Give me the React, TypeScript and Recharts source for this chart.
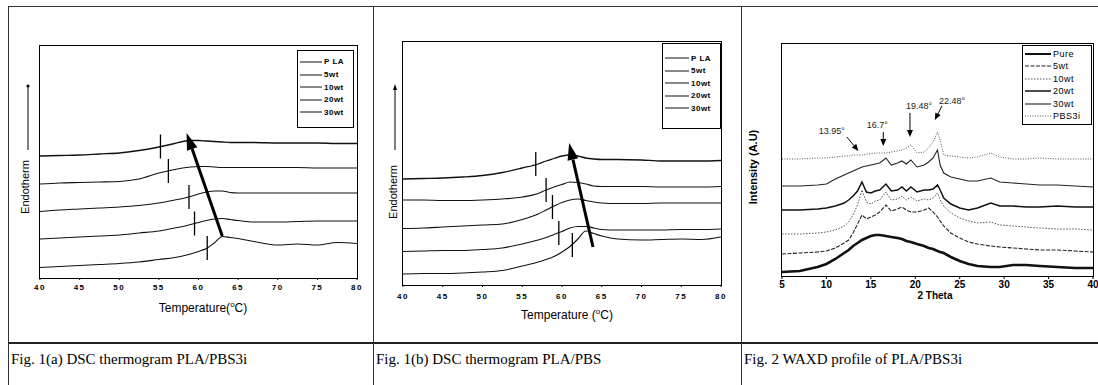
import React from "react";
import { LineChart, Line, XAxis, YAxis, ReferenceLine } from "recharts";

// ---- Fig 1(a)/(b): DSC traces (heights are stacked, arbitrary units) ----
const dscTemps = [40, 42.5, 45, 47.5, 50, 52.5, 55, 57, 58, 59, 60, 61, 62, 63, 64, 65, 67, 70, 72.5, 75, 77.5, 80];
const dscTicks = [40, 45, 50, 55, 60, 65, 70, 75, 80];
const dscNames = ["P LA", "5wt", "10wt", "20wt", "30wt"];

const fig1aPla = [122, 122.5, 123, 124, 125, 127.5, 131, 134.5, 136.5, 137.5, 137.5, 137, 136.5, 136, 135.5, 135.5, 135.5, 135, 135, 135, 134.5, 134.5];
const fig1a5wt = [94, 95, 95.5, 96, 96.5, 99, 105, 108.5, 110, 111, 111.5, 111.5, 111, 110.5, 110.5, 110.5, 110.5, 110.5, 110.5, 110, 110, 110];
const fig1a10wt = [66.5, 68, 69, 70, 71, 72.5, 75, 78, 79.5, 81.5, 84, 86, 87, 87, 85.5, 85, 85, 85, 85, 85, 85, 85];
const fig1a20wt = [39, 40, 41, 42, 43, 45, 47, 50, 51.5, 53.5, 55.5, 57.5, 59, 59.5, 58.5, 57.5, 56, 56, 56.5, 57, 57, 57];
const fig1a30wt = [10.5, 11.5, 12.5, 13.5, 14.5, 16, 18.5, 20.5, 22, 24, 26.5, 29.5, 35, 41.5, 40.5, 39.5, 36.5, 33, 34, 33, 35.5, 34.5];
const fig1aTgTemps = [55.2, 56.2, 58.8, 59.5, 61.1];
const fig1aTgLevels = [131.5, 107, 81, 54.5, 30];
const fig1aArrow = [[63, 42], [58.5, 145]];

const fig1bPla = [106, 106.5, 107, 108, 109.5, 112.5, 117, 121, 124, 126.5, 129, 130, 129, 127, 126, 125.5, 125.5, 125, 124, 124, 124, 124.5];
const fig1b5wt = [85, 85, 84.5, 84.5, 85, 86, 88, 91.5, 95, 98, 100.5, 103, 102.5, 101, 99, 98.5, 98.5, 98.5, 98, 98, 98, 98.5];
const fig1b10wt = [56.5, 57, 58, 59, 60, 61, 65.5, 71, 75, 79, 82.5, 85, 86, 84.5, 83, 82, 81.5, 81.5, 82, 82, 82, 82];
const fig1b20wt = [33.5, 34, 34.5, 34.5, 35.5, 37, 41, 45, 47.5, 50.5, 53.5, 57, 58.5, 58.5, 57, 55.5, 55, 55, 55, 55.5, 55.5, 56];
const fig1b30wt = [11, 11.5, 11.5, 12, 13, 14.5, 19, 23, 25.5, 28.5, 33, 38.5, 46, 54, 51.5, 49, 46, 45, 45.5, 46, 45.5, 48];
const fig1bTgTemps = [56.7, 58, 58.8, 59.6, 61.3];
const fig1bTgLevels = [121, 95, 78, 52, 40];
const fig1bArrow = [[63.9, 38], [60.9, 142]];

// ---- Fig 2: WAXD profiles ----
const xrdTheta = [5, 7, 9, 10, 11, 12, 12.5, 13, 13.5, 14, 14.5, 15, 15.5, 16, 16.7, 17.3, 18, 18.5, 19, 19.5, 20.2, 21, 21.5, 22, 22.5, 22.8, 23.2, 24, 25, 26, 27, 28.5, 29.5, 31, 32.5, 34, 36, 38, 40];
const xrdTicks = [5, 10, 15, 20, 25, 30, 35, 40];
const xrdNames = ["Pure", "5wt", "10wt", "20wt", "30wt", "PBS3i"];
const xrdPure = [4, 5, 9, 12, 17, 23, 26, 30, 33, 36, 38, 40, 41, 41, 40, 39, 38, 37, 35, 34, 32, 30, 28, 27, 25, 24, 23, 19, 15, 12, 10, 9, 9, 11, 11, 10, 9, 8, 8];
const xrd5wt = [22, 23, 24, 25, 28, 33, 36, 43, 52, 61, 57, 59, 61, 64, 71, 65, 67, 69, 66, 64, 64, 66, 68, 64, 59, 55, 50, 43, 38, 34, 32, 30, 29, 28, 27, 26, 26, 25, 24];
const xrd10wt = [42, 42, 43, 44, 46, 50, 54, 61, 71, 86, 74, 72, 75, 76, 84, 76, 77, 80, 76, 79, 75, 77, 76, 78, 83, 76, 70, 63, 58, 55, 53, 54, 51, 50, 49, 48, 47, 47, 46];
const xrd20wt = [66, 66, 67, 68, 70, 73, 76, 80, 85, 94, 84, 83, 85, 86, 92, 85, 86, 89, 85, 89, 84, 86, 86, 87, 91, 86, 78, 72, 68, 66, 68, 73, 70, 70, 69, 69, 70, 69, 69];
const xrd30wt = [90, 90, 91, 92, 97, 101, 103, 105, 107, 109, 110, 111, 112, 113, 118, 111, 113, 115, 112, 116, 109, 111, 114, 118, 126, 111, 103, 99, 97, 95, 95, 98, 94, 93, 92, 91, 91, 90, 89];
const xrdPbs = [117, 117, 118, 118, 119, 120, 120, 121, 121, 121, 122, 122, 123, 123, 123, 124, 125, 126, 128, 131, 123, 124, 128, 134, 144, 136, 121, 120, 119, 118, 119, 123, 119, 117, 117, 118, 117, 117, 117];
const xrdPeakLabels = ["13.95°", "16.7°", "19.48°", "22.48°"];
const xrdArrowFrom = [[12.3, 139], [16.4, 144], [19.4, 163], [23.0, 170]];
const xrdArrowTo = [[13.6, 125], [16.4, 130], [19.4, 139], [22.2, 156]];

const xrdStyles = [
  { w: 2.6, dash: undefined, color: "#111" },
  { w: 1.1, dash: "4 1.5", color: "#222" },
  { w: 1, dash: "1.5 1.5", color: "#555" },
  { w: 1.5, dash: undefined, color: "#111" },
  { w: 1.1, dash: undefined, color: "#222" },
  { w: 1, dash: "1 1.5", color: "#555" },
];

const sans = "'Liberation Sans', Arial, sans-serif";

function ArrowShape(props: any) {
  const { x1, y1, x2, y2, head = 16, spread = 10, sw = 3, text, tx = 0, ty = 0, anchor = "middle" } = props;
  if (x1 == null || x2 == null) return <g />;
  const ang = Math.atan2(y2 - y1, x2 - x1);
  const bx = x2 - head * Math.cos(ang);
  const by = y2 - head * Math.sin(ang);
  const nx = (-Math.sin(ang) * spread) / 2;
  const ny = (Math.cos(ang) * spread) / 2;
  return (
    <g>
      <line x1={x1} y1={y1} x2={bx} y2={by} stroke="#000" strokeWidth={sw} />
      <polygon points={`${x2},${y2} ${bx + nx},${by + ny} ${bx - nx},${by - ny}`} fill="#000" />
      {text && (
        <text x={x1 + tx} y={y1 + ty} textAnchor={anchor} fontSize={9} fontFamily={sans} fill="#222">
          {text}
        </text>
      )}
    </g>
  );
}

function LegendBox({ left, top, width, height, items, rowH, padTop, lineW, fontSize, bold = true }: any) {
  return (
    <div
      style={{
        position: "absolute",
        left,
        top,
        width,
        height,
        boxSizing: "border-box",
        border: "1.5px solid #000",
        background: "#fff",
        overflow: "hidden",
        fontFamily: sans,
        fontSize,
        fontWeight: bold ? 700 : 400,
      }}
    >
      {items.map((it: any, i: number) => (
        <div
          key={i}
          style={{ position: "absolute", left: 2, top: padTop + i * rowH - rowH / 2, height: rowH, display: "flex", alignItems: "center", whiteSpace: "nowrap" }}
        >
          <svg width={lineW} height={6} style={{ marginRight: 2 }}>
            <line x1={0} y1={3} x2={lineW} y2={3} stroke={it.color} strokeWidth={it.w} strokeDasharray={it.dash} />
          </svg>
          <span style={{ letterSpacing: 0.5 }}>{it.name}</span>
        </div>
      ))}
    </div>
  );
}

// plot frame drawn over the chart's plot area
function Frame({ left, top, width, height }: any) {
  return (
    <div
      style={{
        position: "absolute",
        left: left - 1,
        top: top - 1,
        width: width + 2,
        height: height + 2,
        boxSizing: "border-box",
        border: "1.6px solid #000",
        pointerEvents: "none",
      }}
    />
  );
}

function DscChart({ left, width, margin, yMax, series, tgTemps, tgLevels, arrow, tickMargin }: any) {
  const rows = dscTemps.map((t, i) => {
    const r: any = { t };
    series.forEach((s: number[], k: number) => (r["s" + k] = s[i]));
    return r;
  });
  return (
    <div style={{ position: "absolute", left, top: 0 }}>
      <LineChart width={width} height={340} data={rows} margin={margin}>
        <XAxis
          dataKey="t"
          type="number"
          domain={[40, 80]}
          ticks={dscTicks}
          height={30}
          axisLine={false}
          tickLine={{ stroke: "#000" }}
          tickSize={2}
          tickMargin={tickMargin}
          tick={{ fontSize: 8, fontWeight: 700, fill: "#000", fontFamily: sans, letterSpacing: 1.5 }}
        />
        <YAxis type="number" domain={[0, yMax]} hide />
        {series.map((_: number[], k: number) => (
          <Line key={k} dataKey={"s" + k} type="monotone" stroke="#111" strokeWidth={k === 0 ? 1.3 : 1.1} dot={false} isAnimationActive={false} />
        ))}
        {tgTemps.map((t: number, i: number) => (
          <ReferenceLine
            key={"tg" + i}
            segment={[{ x: t, y: tgLevels[i] - 12 }, { x: t, y: tgLevels[i] + 12 }]}
            stroke="#000"
            strokeWidth={1.3}
          />
        ))}
        <ReferenceLine
          segment={[{ x: arrow[0][0], y: arrow[0][1] }, { x: arrow[1][0], y: arrow[1][1] }]}
          shape={(p: any) => <ArrowShape {...p} head={17} spread={11} sw={3} />}
        />
      </LineChart>
    </div>
  );
}

function XrdChart() {
  const series = [xrdPure, xrd5wt, xrd10wt, xrd20wt, xrd30wt, xrdPbs];
  const rows = xrdTheta.map((t, i) => {
    const r: any = { t };
    series.forEach((s, k) => (r["s" + k] = s[i]));
    return r;
  });
  return (
    <div style={{ position: "absolute", left: 741, top: 0 }}>
      <LineChart width={357} height={340} data={rows} margin={{ top: 44, right: 5, bottom: 34, left: 41 }}>
        <XAxis
          dataKey="t"
          type="number"
          domain={[5, 40]}
          ticks={xrdTicks}
          height={30}
          axisLine={false}
          tickLine={{ stroke: "#000" }}
          tickSize={3}
          tick={{ fontSize: 10, fontWeight: 700, fill: "#000", fontFamily: sans }}
        />
        <YAxis type="number" domain={[0, 232]} hide />
        {series.map((_, k) => (
          <Line
            key={k}
            dataKey={"s" + k}
            type="linear"
            stroke={xrdStyles[k].color}
            strokeWidth={xrdStyles[k].w}
            strokeDasharray={xrdStyles[k].dash}
            dot={false}
            isAnimationActive={false}
          />
        ))}
        {xrdPeakLabels.map((lab, i) => (
          <ReferenceLine
            key={lab}
            segment={[{ x: xrdArrowFrom[i][0], y: xrdArrowFrom[i][1] }, { x: xrdArrowTo[i][0], y: xrdArrowTo[i][1] }]}
            shape={(p: any) => (
              <ArrowShape
                {...p}
                head={7}
                spread={6}
                sw={1}
                text={lab}
                tx={[-2, -6, 9, 10][i]}
                ty={[-3, -4, -4, -2][i]}
                anchor={i === 0 ? "end" : "middle"}
              />
            )}
          />
        ))}
      </LineChart>
    </div>
  );
}

function Title({ cx, cy, children, size = 12, bold = false }: any) {
  return (
    <div
      style={{
        position: "absolute",
        left: cx - 100,
        top: cy - size * 0.6,
        width: 200,
        textAlign: "center",
        lineHeight: size * 1.2 + "px",
        fontSize: size,
        fontWeight: bold ? 700 : 400,
        fontFamily: sans,
        color: "#000",
      }}
    >
      {children}
    </div>
  );
}

export default function App() {
  const dscItems = dscNames.map((n) => ({ name: n, w: 1, color: "#111" }));
  const xrdItems = xrdNames.map((n, i) => ({ name: n, ...xrdStyles[i], w: Math.min(xrdStyles[i].w, 2) }));
  const line = (s: any) => <div style={{ position: "absolute", background: "#333", ...s }} />;
  const caption = { position: "absolute" as const, top: 351, fontFamily: "'Liberation Serif', serif", fontSize: 15, whiteSpace: "nowrap" as const };
  return (
    <div style={{ position: "relative", width: 1098, height: 385, background: "#fff", overflow: "hidden" }}>
      <style>{"body{margin:0}"}</style>
      {line({ left: 8, top: 6, width: 1090, height: 1 })}
      {line({ left: 8, top: 6, width: 1, height: 379 })}
      {line({ left: 373, top: 6, width: 1, height: 379 })}
      {line({ left: 741, top: 6, width: 1, height: 379 })}
      {line({ left: 8, top: 342, width: 1090, height: 2, background: "#222" })}

      <DscChart
        left={0}
        width={370}
        margin={{ top: 46, right: 13, bottom: 32, left: 40 }}
        yMax={232}
        series={[fig1aPla, fig1a5wt, fig1a10wt, fig1a20wt, fig1a30wt]}
        tgTemps={fig1aTgTemps}
        tgLevels={fig1aTgLevels}
        arrow={fig1aArrow}
        tickMargin={4}
      />
      <DscChart
        left={373}
        width={368}
        margin={{ top: 42, right: 20, bottom: 25, left: 30 }}
        yMax={243}
        series={[fig1bPla, fig1b5wt, fig1b10wt, fig1b20wt, fig1b30wt]}
        tgTemps={fig1bTgTemps}
        tgLevels={fig1bTgLevels}
        arrow={fig1bArrow}
        tickMargin={6}
      />
      <XrdChart />

      <Frame left={40} top={46} width={317} height={232} />
      <Frame left={403} top={42} width={318} height={243} />
      <Frame left={782} top={44} width={311} height={232} />

      <LegendBox left={297} top={50} width={57} height={78} items={dscItems} rowH={12.6} padTop={11} lineW={22} fontSize={8} />
      <LegendBox left={662} top={43} width={59} height={86} items={dscItems} rowH={12.5} padTop={14} lineW={24} fontSize={8} />
      <LegendBox left={1022} top={45} width={70} height={80} items={xrdItems} rowH={12.4} padTop={8} lineW={26} fontSize={9} bold={false} />

      <Title cx={203} cy={305}>
        Temperature(<sup style={{ fontSize: 8 }}>o</sup>C)
      </Title>
      <Title cx={567} cy={312}>
        Temperature (<sup style={{ fontSize: 8 }}>o</sup>C)
      </Title>
      <Title cx={935} cy={296} size={10} bold>
        2 Theta
      </Title>

      <svg width={1098} height={385} style={{ position: "absolute", left: 0, top: 0, pointerEvents: "none" }}>
        <text transform="rotate(-90 29 187)" x={29} y={187} textAnchor="middle" fontSize={11} fontFamily={sans}>
          Endotherm
        </text>
        <line x1={28} y1={150} x2={28} y2={87} stroke="#000" strokeWidth={1} />
        <circle cx={28} cy={86} r={1.6} fill="#000" />
        <text transform="rotate(-90 397 192)" x={397} y={192} textAnchor="middle" fontSize={11} fontFamily={sans}>
          Endotherm
        </text>
        <line x1={395} y1={150} x2={395} y2={88} stroke="#000" strokeWidth={1} />
        <polygon points="395,84 393,90 397,90" fill="#000" />
        <text transform="rotate(-90 757 167)" x={757} y={167} textAnchor="middle" fontSize={11} fontWeight={700} fontFamily={sans}>
          Intensity (A.U)
        </text>
      </svg>

      <div style={{ ...caption, left: 11 }}>Fig. 1(a) DSC thermogram PLA/PBS3i</div>
      <div style={{ ...caption, left: 376 }}>Fig. 1(b) DSC thermogram PLA/PBS</div>
      <div style={{ ...caption, left: 744 }}>Fig. 2 WAXD profile of PLA/PBS3i</div>
    </div>
  );
}
